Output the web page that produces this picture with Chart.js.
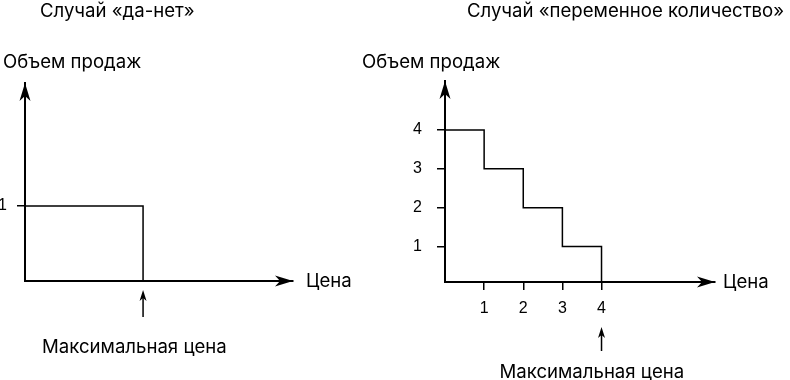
<!DOCTYPE html>
<html>
<head>
<meta charset="utf-8">
<script src="https://cdn.jsdelivr.net/npm/chart.js@4.4.1/dist/chart.umd.min.js"></script>
<style>
  html, body { margin: 0; padding: 0; background: #fff; }
  #wrap { position: relative; width: 790px; height: 380px; }
  canvas { position: absolute; top: 0; }
  #left { left: 0; }
  #right { left: 357px; }
</style>
</head>
<body>
<div id="wrap">
  <canvas id="left" width="357" height="380"></canvas>
  <canvas id="right" width="433" height="380"></canvas>
</div>
<script>
const FONT = "Inter, 'Noto Sans', sans-serif";
const TICK_FONT = "'Liberation Sans', Arial, sans-serif";

// Случай «да-нет»
const yesNoPrices = [0, 1];
const yesNoVolumes = [1, 0];
const yesNoTicksY = [1];
const yesNoMaxPrice = 1;

// Случай «переменное количество»
const varPrices = [0, 1, 2, 3, 4];
const varVolumes = [4, 3, 2, 1, 0];
const varTicksX = [1, 2, 3, 4];
const varTicksY = [1, 2, 3, 4];
const varMaxPrice = 4;

// наконечник стрелки, острие в (x, y)
function arrowHead(ctx, x, y, dir, len, half) {
  ctx.save();
  ctx.translate(x, y);
  if (dir === "right") ctx.rotate(Math.PI / 2);
  ctx.beginPath();
  ctx.moveTo(0, 0);
  ctx.lineTo(half, len);
  ctx.lineTo(0, len * 0.72);
  ctx.lineTo(-half, len);
  ctx.closePath();
  ctx.fill();
  ctx.restore();
}

const decor = {
  id: "decor",
  afterDraw(chart, args, o) {
    const { ctx, chartArea: a } = chart;
    const x = chart.scales.x;
    ctx.save();
    ctx.fillStyle = "#000";
    ctx.strokeStyle = "#000";

    // стрелки осей
    arrowHead(ctx, a.left, a.top, "up", 18, 5.5);
    arrowHead(ctx, a.right, a.bottom, "right", 18, 5.5);

    // стрелка к максимальной цене
    const px = x.getPixelForValue(o.maxPrice);
    ctx.lineWidth = 1.5;
    ctx.beginPath();
    ctx.moveTo(px, o.arrowTop + 6);
    ctx.lineTo(px, o.arrowBottom);
    ctx.stroke();
    arrowHead(ctx, px, o.arrowTop, "up", 11, 3.5);

    ctx.font = "18.6px " + FONT;
    ctx.textBaseline = "middle";
    ctx.textAlign = "left";
    ctx.fillText(o.title, o.titleX, 11);
    ctx.fillText("Объем продаж", o.yLabelX, 62);
    ctx.fillText("Цена", a.right + o.priceGap, a.bottom);
    ctx.fillText("Максимальная цена", px - o.noteShift, o.noteY);
    ctx.restore();
  }
};

function makeChart(id, prices, volumes, s) {
  const points = prices.map((p, i) => ({ x: p, y: volumes[i] }));
  return new Chart(document.getElementById(id), {
    type: "scatter",
    data: {
      datasets: [{
        data: points,
        showLine: true,
        stepped: true,
        borderColor: "#000",
        borderWidth: 1.5,
        pointRadius: 0,
        fill: false
      }]
    },
    options: {
      responsive: false,
      animation: false,
      events: [],
      layout: { padding: s.padding },
      plugins: {
        legend: { display: false },
        tooltip: { enabled: false },
        decor: s.decor
      },
      scales: {
        x: {
          type: "linear",
          bounds: "data",
          min: 0,
          max: s.xMax,
          afterBuildTicks: sc => { sc.ticks = s.ticksX.map(v => ({ value: v })); },
          afterFit: sc => { sc.height = 40; },
          grid: { display: s.ticksX.length > 0, drawOnChartArea: false, tickLength: 8, color: "#000", lineWidth: 1.5 },
          border: { display: true, color: "#000", width: 2 },
          ticks: { display: s.ticksX.length > 0, color: "#000", padding: 9, font: { family: TICK_FONT, size: 16 } }
        },
        y: {
          type: "linear",
          bounds: "data",
          min: s.yMin,
          max: s.yMax,
          afterBuildTicks: sc => { sc.ticks = s.ticksY.map(v => ({ value: v })); },
          afterFit: sc => { sc.width = s.yWidth; },
          grid: { drawOnChartArea: false, tickLength: 8, color: "#000", lineWidth: 1.5 },
          border: { display: true, color: "#000", width: 2 },
          ticks: { color: "#000", padding: s.yPad, font: { family: TICK_FONT, size: 16 } }
        }
      }
    },
    plugins: [decor]
  });
}

makeChart("left", yesNoPrices, yesNoVolumes, {
  padding: { left: 0, top: 83, right: 64, bottom: 59 },
  xMax: 2.27, yMin: 0, yMax: 2.64,
  ticksX: [], ticksY: yesNoTicksY,
  yWidth: 25, yPad: 10,
  decor: {
    title: "Случай «да-нет»", titleX: 40, yLabelX: 3, priceGap: 13,
    maxPrice: yesNoMaxPrice, arrowTop: 290, arrowBottom: 317, noteShift: 101, noteY: 347
  }
});

makeChart("right", varPrices, varVolumes, {
  padding: { left: 0, top: 81, right: 75, bottom: 58 },
  xMax: 6.9, yMin: 0.09, yMax: 5.257,
  ticksX: varTicksX, ticksY: varTicksY,
  yWidth: 88, yPad: 15,
  decor: {
    title: "Случай «переменное количество»", titleX: 110, yLabelX: 5, priceGap: 8,
    maxPrice: varMaxPrice, arrowTop: 327, arrowBottom: 351, noteShift: 102, noteY: 372
  }
});
</script>
</body>
</html>
